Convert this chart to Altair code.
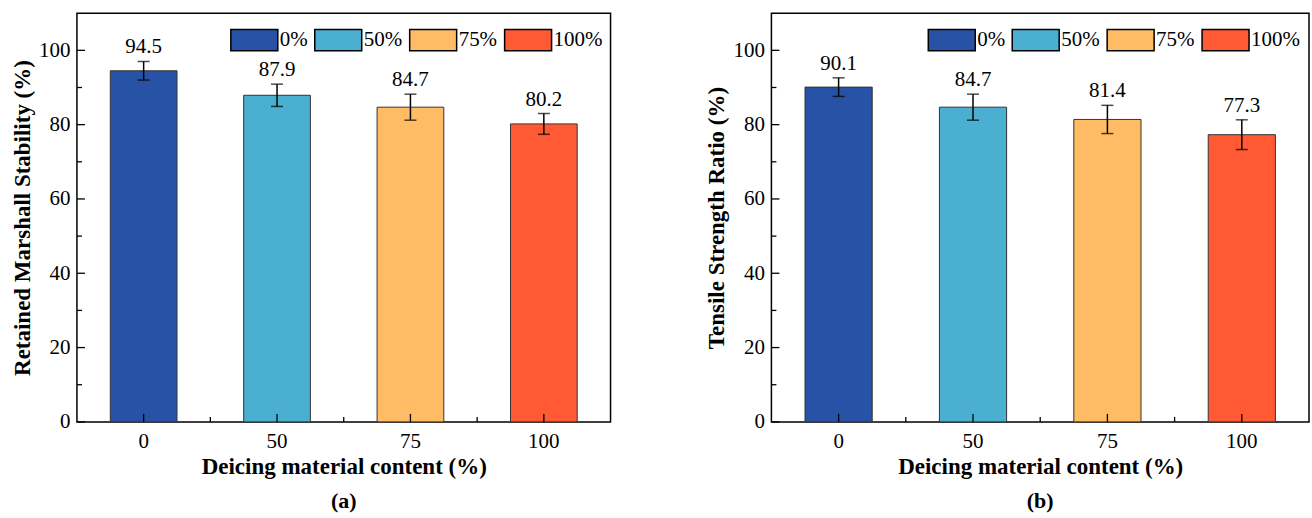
import altair as alt
import pandas as pd

categories = ["0", "50", "75", "100"]
legend_labels = ["0%", "50%", "75%", "100%"]
colors = ["#2852A6", "#4AAFD0", "#FFBC65", "#FF5A34"]
rms_values = [94.5, 87.9, 84.7, 80.2]
rms_errors = [2.5, 3.0, 3.5, 2.8]
tsr_values = [90.1, 84.7, 81.4, 77.3]
tsr_errors = [2.5, 3.5, 3.8, 4.0]
y_major_ticks = [0, 20, 40, 60, 80, 100]
y_minor_ticks = [10, 30, 50, 70, 90]

H = 409
FONT = "Liberation Serif"


def panel(values, errors, ytitle, caption, W, legend_x):
    step = W / 4.0
    df = pd.DataFrame({"cat": categories, "label": legend_labels,
                       "value": values, "err": errors})
    df["lo"] = df["value"] - df["err"]
    df["hi"] = df["value"] + df["err"]
    df["txt"] = df["value"].map(lambda v: f"{v:.1f}")

    xs = alt.Scale(domain=categories, paddingInner=0.5, paddingOuter=0.25)
    ys = alt.Scale(domain=[0, 110], nice=False, zero=True)
    x_axis = alt.Axis(title="Deicing material content (%)", labelAngle=0,
                      ticks=False, domain=False, grid=False,
                      labelPadding=9, titlePadding=4)
    y_axis = alt.Axis(title=ytitle, values=y_major_ticks, ticks=False,
                      domain=False, grid=False, labelPadding=7, titlePadding=4)

    def X():
        return alt.X("cat:N", scale=xs, sort=categories, axis=x_axis,
                     title="Deicing material content (%)")

    def Y(f):
        return alt.Y(f, scale=ys, axis=y_axis, title=ytitle)

    base = alt.Chart(df)
    bars = base.mark_bar(stroke="#333333", strokeWidth=1).encode(
        x=X(),
        y=Y("value:Q"),
        color=alt.Color("label:N",
                        scale=alt.Scale(domain=legend_labels, range=colors),
                        sort=legend_labels,
                        legend=alt.Legend(title=None, orient="none", legendX=legend_x,
                                          legendY=2, direction="horizontal",
                                          symbolType="M-1,-0.45H1V0.45H-1Z",
                                          symbolSize=2209, symbolStrokeColor="black",
                                          symbolStrokeWidth=1.5, symbolOpacity=1,
                                          labelFont=FONT, labelFontSize=21,
                                          labelColor="black", columnPadding=4,
                                          labelOffset=1, padding=0)),
    )
    err_rule = base.mark_rule(color="black", strokeWidth=1.5).encode(
        x=X(), y=Y("lo:Q"), y2="hi:Q")
    cap_lo = base.mark_tick(color="black", thickness=1.5, size=12).encode(
        x=X(), y=Y("lo:Q"))
    cap_hi = base.mark_tick(color="black", thickness=1.5, size=12).encode(
        x=X(), y=Y("hi:Q"))
    labels = base.mark_text(font=FONT, fontSize=21, baseline="bottom", dy=-4,
                            color="black").encode(
        x=X(), y=Y("hi:Q"), text="txt:N")

    ymaj = alt.Chart(pd.DataFrame({"t": y_major_ticks})).mark_rule(
        color="black", strokeWidth=1.3).encode(
        y=Y("t:Q"), x=alt.value(0), x2=alt.value(8))
    ymin = alt.Chart(pd.DataFrame({"t": y_minor_ticks})).mark_rule(
        color="black", strokeWidth=1.3).encode(
        y=Y("t:Q"), x=alt.value(0), x2=alt.value(5))
    xmaj = base.mark_rule(color="black", strokeWidth=1.3).encode(
        x=X(), y=alt.value(H), y2=alt.value(H - 8))
    xmin = alt.Chart(df[df["cat"] != "0"]).mark_rule(
        color="black", strokeWidth=1.3, xOffset=-step / 2).encode(
        x=X(), y=alt.value(H), y2=alt.value(H - 5))

    return alt.layer(bars, err_rule, cap_lo, cap_hi, labels, ymaj, ymin, xmaj, xmin).properties(
        width=W, height=H,
        title=alt.TitleParams(text=caption, orient="bottom", font=FONT, fontSize=22,
                              fontWeight="bold", color="black", offset=12),
    )


pa = panel(rms_values, rms_errors, "Retained Marshall Stability (%)", "(a)", 534, 153)
pb = panel(tsr_values, tsr_errors, "Tensile Strength Ratio (%)", "(b)", 538, 156)

chart = alt.hconcat(pa, pb, spacing=93).resolve_scale(
    color="independent").resolve_legend(color="independent").properties(
    padding={"left": 10, "top": 12, "right": 2, "bottom": 5},
    background="white",
).configure_view(stroke="black", strokeWidth=1.5).configure_axis(
    labelFont=FONT, labelFontSize=21, labelColor="black",
    titleFont=FONT, titleFontSize=23, titleFontWeight="bold", titleColor="black",
)

chart.save("out.html", embed_options={"renderer": "svg", "actions": False})
